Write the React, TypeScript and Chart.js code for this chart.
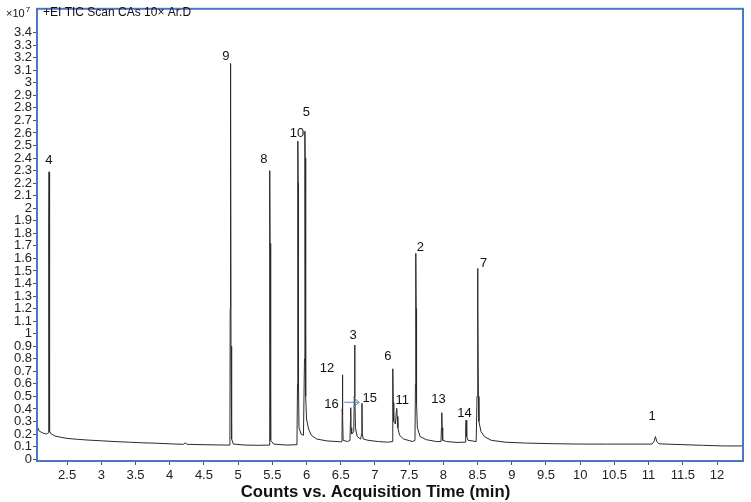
import React, { useEffect, useRef } from "react";
import Chart from "chart.js/auto";

// Retention time (min) and intensity (×10^7 counts)
const times = [
  2.06, 2.075, 2.09, 2.12, 2.16, 2.2, 2.225, 2.23, 2.233, 2.236, 2.239, 2.242, 2.25, 2.27, 2.32, 2.4, 2.5, 2.65, 2.8, 3.0,
  3.2, 3.4, 3.6, 3.8, 4.0, 4.2, 4.23, 4.25, 4.5, 4.7, 4.87, 4.88, 4.884, 4.888, 4.892, 4.896, 4.905, 4.93, 5.1, 5.3,
  5.455, 5.46, 5.464, 5.467, 5.471, 5.48, 5.52, 5.7, 5.86, 5.868, 5.873, 5.877, 5.882, 5.89, 5.92, 5.955, 5.97, 5.976, 5.98, 5.985,
  5.99, 6.0, 6.03, 6.07, 6.15, 6.3, 6.5, 6.518, 6.522, 6.525, 6.529, 6.535, 6.6, 6.635, 6.642, 6.646, 6.651, 6.66, 6.69, 6.698,
  6.703, 6.708, 6.715, 6.74, 6.79, 6.805, 6.81, 6.815, 6.83, 6.9, 7.05, 7.2, 7.25, 7.258, 7.263, 7.268, 7.275, 7.3, 7.312, 7.318,
  7.325, 7.335, 7.36, 7.42, 7.55, 7.585, 7.592, 7.597, 7.602, 7.608, 7.62, 7.66, 7.75, 7.9, 7.965, 7.972, 7.977, 7.982, 7.99, 8.05,
  8.2, 8.32, 8.326, 8.332, 8.338, 8.345, 8.36, 8.48, 8.492, 8.5, 8.506, 8.512, 8.52, 8.55, 8.6, 8.7, 8.9, 9.2, 9.6, 10.0,
  10.4, 10.8, 11.05, 11.08, 11.1, 11.12, 11.15, 11.4, 11.8, 12.1, 12.38,
];
const counts = [
  0.21, 0.245, 0.225, 0.215, 0.205, 0.2, 0.21, 0.6, 1.8, 2.29, 1.8, 0.6, 0.22, 0.2, 0.185, 0.175, 0.165, 0.158, 0.152, 0.146,
  0.14, 0.135, 0.13, 0.127, 0.122, 0.118, 0.13, 0.118, 0.115, 0.113, 0.112, 0.14, 1.2, 3.154, 2.8, 0.9, 0.16, 0.12, 0.112, 0.11,
  0.112, 0.5, 2.3, 1.72, 0.5, 0.15, 0.12, 0.112, 0.115, 0.6, 2.535, 2.2, 0.6, 0.25, 0.2, 0.19, 0.8, 2.614, 2.4, 0.9,
  0.5, 0.32, 0.24, 0.19, 0.16, 0.145, 0.138, 0.14, 0.4, 0.672, 0.35, 0.15, 0.14, 0.15, 0.3, 0.41, 0.25, 0.2, 0.22, 0.5,
  0.91, 0.55, 0.25, 0.18, 0.16, 0.2, 0.445, 0.2, 0.16, 0.15, 0.14, 0.135, 0.14, 0.4, 0.72, 0.45, 0.3, 0.28, 0.38, 0.405,
  0.34, 0.25, 0.19, 0.16, 0.14, 0.15, 0.6, 1.64, 1.2, 0.45, 0.25, 0.18, 0.155, 0.14, 0.14, 0.25, 0.37, 0.25, 0.15, 0.14,
  0.133, 0.135, 0.25, 0.31, 0.25, 0.18, 0.15, 0.14, 0.5, 1.52, 1.2, 0.5, 0.3, 0.22, 0.18, 0.15, 0.135, 0.128, 0.123, 0.12,
  0.12, 0.12, 0.12, 0.14, 0.18, 0.14, 0.122, 0.117, 0.11, 0.105, 0.105,
];

// Peak labels: text, label position (time, intensity)
const peakNames = ["4", "9", "8", "10", "5", "12", "16", "3", "15", "6", "11", "2", "13", "14", "7", "1"];
const peakLabelTimes = [2.235, 4.82, 5.375, 5.862, 5.999, 6.3, 6.364, 6.68, 6.924, 7.19, 7.4, 7.665, 7.93, 8.31, 8.59, 11.05];
const peakLabelValues = [2.38, 3.21, 2.39, 2.6, 2.765, 0.725, 0.44, 0.99, 0.485, 0.82, 0.47, 1.69, 0.474, 0.366, 1.56, 0.342];

// Arrow for peak 16
const arrowTimes = [6.55, 6.77];
const arrowValue = 0.453;

const xTicks = [2.5, 3, 3.5, 4, 4.5, 5, 5.5, 6, 6.5, 7, 7.5, 8, 8.5, 9, 9.5, 10, 10.5, 11, 11.5, 12];
const yTicks = [
  0, 0.1, 0.2, 0.3, 0.4, 0.5, 0.6, 0.7, 0.8, 0.9, 1, 1.1, 1.2, 1.3, 1.4, 1.5, 1.6, 1.7, 1.8, 1.9, 2, 2.1, 2.2, 2.3, 2.4,
  2.5, 2.6, 2.7, 2.8, 2.9, 3, 3.1, 3.2, 3.3, 3.4,
];

const xMin = 2.06;
const xMax = 12.38;
const yMin = -0.015;
const yMax = 3.59;

const titleText = "+EI TIC Scan CAs 10\u00d7 Ar.D";
const xTitle = "Counts vs. Acquisition Time (min)";

const FONT = "'Liberation Sans', Arial, sans-serif";
const BLUE = "#4a76c4";

const overlayPlugin = {
  id: "overlay",
  afterDraw(chart: any) {
    const { ctx, chartArea } = chart;
    const xs = chart.scales.x;
    const ys = chart.scales.y;
    ctx.save();
    // border box
    ctx.strokeStyle = BLUE;
    ctx.lineWidth = 2;
    ctx.strokeRect(chartArea.left, chartArea.top, chartArea.right - chartArea.left, chartArea.bottom - chartArea.top);

    // peak labels
    ctx.fillStyle = "#111";
    ctx.font = `13px ${FONT}`;
    ctx.textAlign = "center";
    ctx.textBaseline = "middle";
    peakNames.forEach((n, i) => {
      ctx.fillText(n, xs.getPixelForValue(peakLabelTimes[i]), ys.getPixelForValue(peakLabelValues[i]));
    });

    // arrow
    const ax0 = xs.getPixelForValue(arrowTimes[0]);
    const ax1 = xs.getPixelForValue(arrowTimes[1]);
    const ay = ys.getPixelForValue(arrowValue);
    ctx.strokeStyle = "#5b87c8";
    ctx.lineWidth = 1;
    ctx.beginPath();
    ctx.moveTo(ax0, ay);
    ctx.lineTo(ax1, ay);
    ctx.moveTo(ax1 - 6, ay - 5);
    ctx.lineTo(ax1, ay);
    ctx.lineTo(ax1 - 6, ay + 5);
    ctx.stroke();

    // chart title inside
    ctx.fillStyle = "#111";
    ctx.textAlign = "left";
    ctx.font = `12px ${FONT}`;
    ctx.fillText(titleText, chartArea.left + 6, 13);

    // ×10^7
    ctx.font = `11px ${FONT}`;
    ctx.fillText("\u00d710", 6, 14);
    const w = ctx.measureText("\u00d710").width;
    ctx.font = `8px ${FONT}`;
    ctx.fillText("7", 6 + w + 1, 10);

    // x title
    ctx.font = `bold 16.7px ${FONT}`;
    ctx.textAlign = "center";
    ctx.fillText(xTitle, 375.5, 492);
    ctx.restore();
  },
};

export default function App() {
  const ref = useRef<HTMLCanvasElement | null>(null);
  useEffect(() => {
    document.body.style.margin = "0";
    const canvas = ref.current!;
    const chart = new Chart(canvas, {
      type: "line",
      data: {
        datasets: [
          {
            data: times.map((t, i) => ({ x: t, y: counts[i] })),
            borderColor: "#2a2a2a",
            borderWidth: 1,
            pointRadius: 0,
            tension: 0,
            fill: false,
          },
        ],
      },
      options: {
        animation: false,
        responsive: false,
        devicePixelRatio: 1,
        layout: { padding: { left: 0, right: 8, top: 5, bottom: 0 } },
        plugins: { legend: { display: false }, tooltip: { enabled: false } },
        scales: {
          x: {
            type: "linear",
            min: xMin,
            max: xMax,
            afterBuildTicks: (s: any) => {
              s.ticks = xTicks.map((v) => ({ value: v }));
            },
            afterFit: (s: any) => {
              s.height = 41;
            },
            grid: { display: true, drawOnChartArea: false, drawTicks: true, tickLength: 4, color: "#555" },
            border: { display: false },
            ticks: {
              autoSkip: false,
              maxRotation: 0,
              padding: 3,
              color: "#222",
              font: { family: FONT, size: 13 },
              callback: (v: any) => String(Math.round(Number(v) * 10) / 10),
            },
          },
          y: {
            type: "linear",
            min: yMin,
            max: yMax,
            afterBuildTicks: (s: any) => {
              s.ticks = yTicks.map((v) => ({ value: v }));
            },
            afterFit: (s: any) => {
              s.width = 37;
            },
            grid: { display: true, drawOnChartArea: false, drawTicks: true, tickLength: 4, color: "#555" },
            border: { display: false },
            ticks: {
              autoSkip: false,
              padding: 1,
              color: "#222",
              font: { family: FONT, size: 13 },
              callback: (v: any) => String(Math.round(Number(v) * 10) / 10),
            },
          },
        },
      },
      plugins: [overlayPlugin],
    });
    return () => chart.destroy();
  }, []);
  return (
    <div style={{ width: 751, height: 502 }}>
      <canvas ref={ref} width={751} height={502} />
    </div>
  );
}
